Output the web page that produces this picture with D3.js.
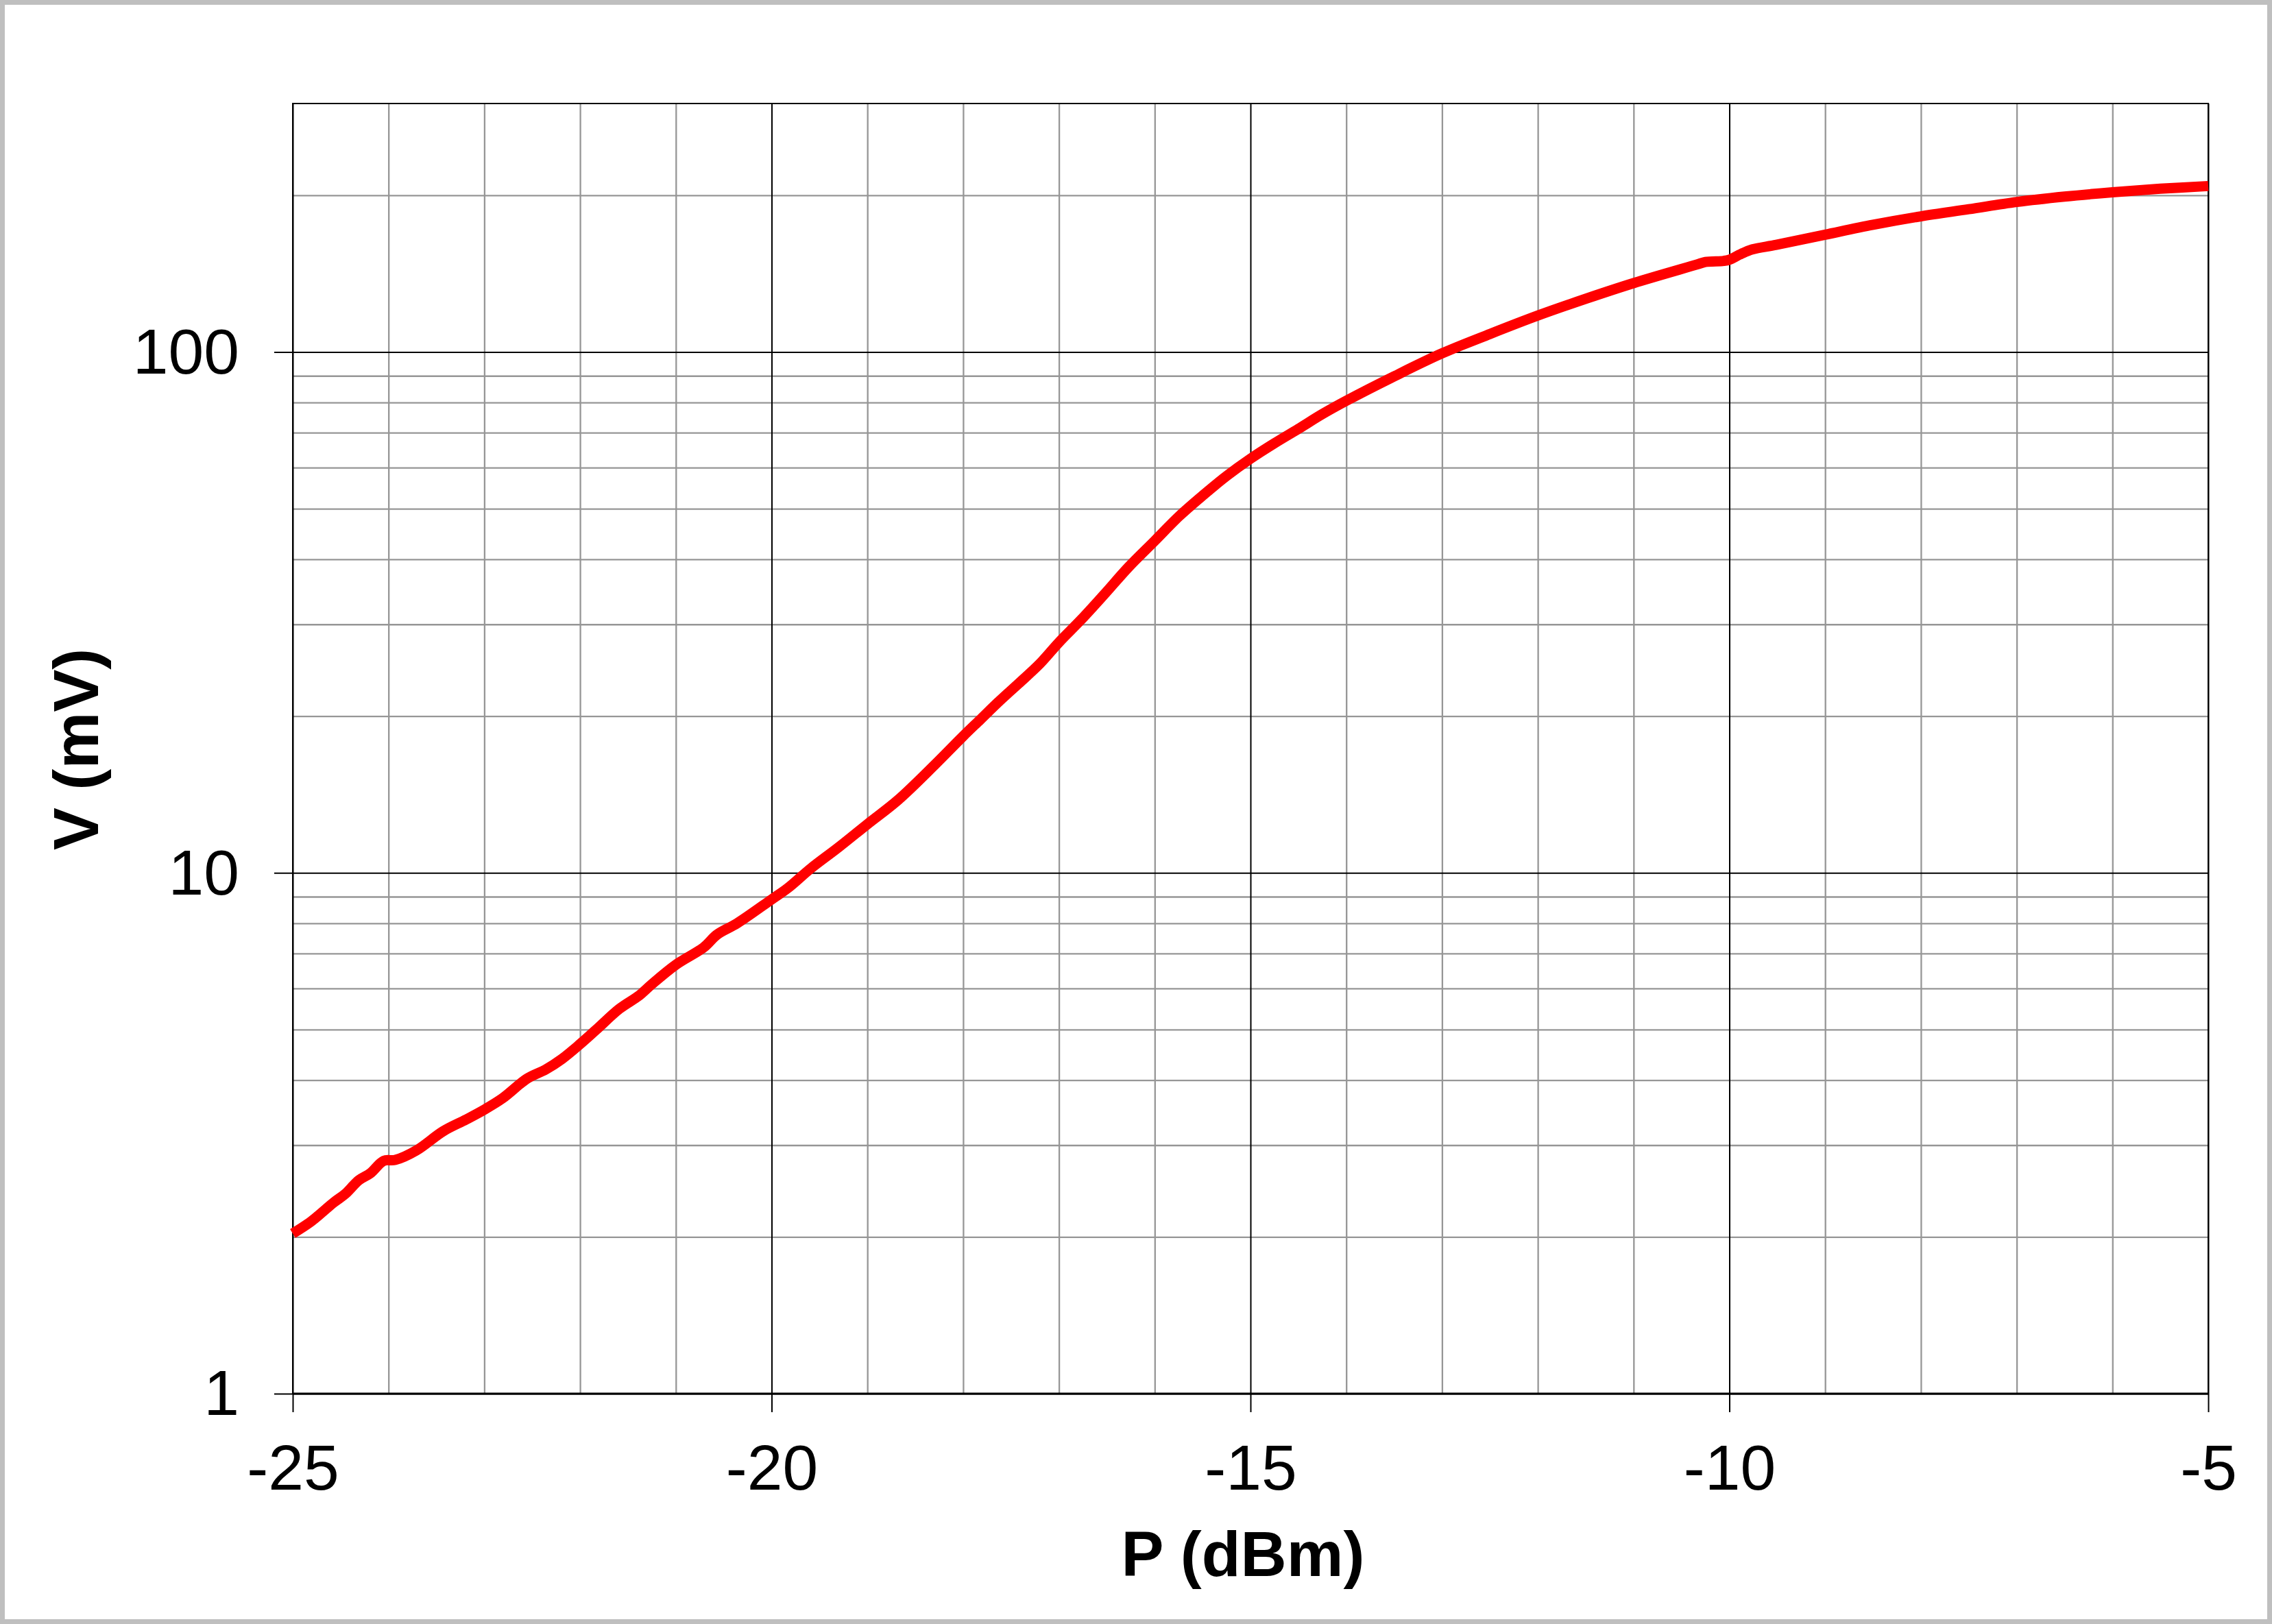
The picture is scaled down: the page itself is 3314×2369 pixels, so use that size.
<!DOCTYPE html>
<html>
<head>
<meta charset="utf-8">
<script src="https://cdn.jsdelivr.net/npm/d3@7"></script>
<style>
  html, body { margin: 0; padding: 0; background: #ffffff; }
  svg { display: block; }
  text { font-family: "Liberation Sans", Arial, sans-serif; fill: #000; }
</style>
</head>
<body>
<script>
// ---- data ----
const powerDbm = [-25, -24.81, -24.57, -24.45, -24.31, -24.19, -24.05, -23.93, -23.71, -23.43,
  -23.19, -23.0, -22.81, -22.55, -22.36, -22.19, -22.0, -21.83, -21.59, -21.38,
  -21.26, -21.0, -20.71, -20.57, -20.36, -20.0, -19.83, -19.59, -19.30, -19.0,
  -18.68, -18.30, -18.0, -17.82, -17.63, -17.42, -17.20, -17.0, -16.77,
  -16.53, -16.27, -16.0, -15.75, -15.5, -15.25, -15.0, -14.75, -14.5, -14.25,
  -14.0, -13.5, -13.0, -12.5, -12.0, -11.49, -11.0, -10.34, -10.25, -10.06,
  -10.0, -9.88, -9.76, -9.51, -9.0, -8.5, -8.0, -7.5, -7.0, -6.5,
  -6.0, -5.5, -5.0];
const voltageMv = [2.03, 2.14, 2.33, 2.42, 2.57, 2.65, 2.80, 2.81, 2.93, 3.19,
  3.36, 3.51, 3.69, 4.03, 4.19, 4.39, 4.69, 5.00, 5.48, 5.82,
  6.09, 6.66, 7.19, 7.61, 8.0, 8.89, 9.35, 10.2, 11.2, 12.4,
  13.8, 16.1, 18.3, 19.7, 21.3, 23.1, 25.2, 27.7, 30.6,
  34.2, 38.7, 43.4, 48.3, 53.0, 57.8, 62.4, 66.8, 71.2, 76.0,
  80.6, 89.8, 99.4, 108.3, 117.5, 126.7, 135.6, 147.2, 148.9, 149.6,
  150.4, 154.2, 157.4, 160.6, 168.0, 175.5, 182.2, 188.0, 194.1, 198.8,
  202.6, 205.8, 208.3];
const xDomain = [-25, -5];
const yDomain = [1, 300];
const xMajorTicks = [-25, -20, -15, -10, -5];
const xMinorTicks = [-24, -23, -22, -21, -19, -18, -17, -16, -14, -13, -12, -11, -9, -8, -7, -6];
const yMajorTicks = [1, 10, 100];
const yMinorTicks = [2, 3, 4, 5, 6, 7, 8, 9, 20, 30, 40, 50, 60, 70, 80, 90, 200];
const xTitle = "P (dBm)";
const yTitle = "V (mV)";

// ---- layout ----
const W = 3314, H = 2369;
const m = { left: 427, right: 3221, top: 151, bottom: 2033 };
const fontSize = 93;

const svg = d3.select("body").append("svg").attr("width", W).attr("height", H);

svg.append("rect").attr("x", 3.5).attr("y", 3.5).attr("width", W - 7).attr("height", H - 7)
  .attr("fill", "#ffffff").attr("stroke", "#bfbfbf").attr("stroke-width", 7);

const x = d3.scaleLinear().domain(xDomain).range([m.left, m.right]);
const y = d3.scaleLog().domain(yDomain).range([m.bottom, m.top]);
const ph = m.bottom - m.top, pw = m.right - m.left;

// minor grid
const gMinX = svg.append("g").attr("transform", `translate(0,${m.bottom})`)
  .call(d3.axisBottom(x).tickValues(xMinorTicks).tickSize(-ph).tickFormat(""));
const gMinY = svg.append("g").attr("transform", `translate(${m.left},0)`)
  .call(d3.axisLeft(y).tickValues(yMinorTicks).tickSize(-pw).tickFormat(""));
[gMinX, gMinY].forEach(g => {
  g.select(".domain").remove();
  g.selectAll(".tick line").attr("stroke", "#969696").attr("stroke-width", 2.3);
});

// major grid
const gMajX = svg.append("g").attr("transform", `translate(0,${m.bottom})`)
  .call(d3.axisBottom(x).tickValues(xMajorTicks).tickSize(-ph).tickFormat(""));
const gMajY = svg.append("g").attr("transform", `translate(${m.left},0)`)
  .call(d3.axisLeft(y).tickValues(yMajorTicks).tickSize(-pw).tickFormat(""));
[gMajX, gMajY].forEach(g => {
  g.select(".domain").remove();
  g.selectAll(".tick line").attr("stroke", "#000").attr("stroke-width", 2);
});

// plot frame
svg.append("rect").attr("x", m.left).attr("y", m.top).attr("width", pw).attr("height", ph)
  .attr("fill", "none").attr("stroke", "#000").attr("stroke-width", 2);
svg.append("line").attr("x1", m.left).attr("x2", m.right).attr("y1", m.bottom).attr("y2", m.bottom)
  .attr("stroke", "#000").attr("stroke-width", 3);

// curve
const data = powerDbm.map((p, i) => ({ p, v: voltageMv[i] }));
const line = d3.line().x(d => x(d.p)).y(d => y(d.v)).curve(d3.curveCatmullRom.alpha(0.5));
svg.append("path").datum(data).attr("d", line)
  .attr("fill", "none").attr("stroke", "#ff0000").attr("stroke-width", 15)
  .attr("stroke-linejoin", "round").attr("stroke-linecap", "butt");

// axes with labels
const ax = svg.append("g").attr("transform", `translate(0,${m.bottom})`)
  .call(d3.axisBottom(x).tickValues(xMajorTicks).tickSize(27).tickPadding(47).tickFormat(d3.format("d")));
const ay = svg.append("g").attr("transform", `translate(${m.left},0)`)
  .call(d3.axisLeft(y).tickValues(yMajorTicks).tickSize(27).tickPadding(51).tickFormat(d3.format("d")));
[ax, ay].forEach(g => {
  g.select(".domain").remove();
  g.selectAll(".tick line").attr("stroke", "#000").attr("stroke-width", 2);
  g.selectAll(".tick text").attr("font-size", fontSize)
    .attr("font-family", "'Liberation Sans', Arial, sans-serif").attr("fill", "#000");
});
ax.selectAll(".tick text").text(d => d < 0 ? "-" + Math.abs(d) : d);
ay.selectAll(".tick text").attr("dy", "0.333em");

// titles
svg.append("text").attr("x", 1813).attr("y", 2299).attr("text-anchor", "middle")
  .attr("font-size", fontSize).attr("font-weight", "bold").text(xTitle);
svg.append("text").attr("transform", "translate(143,1093) rotate(-90)").attr("text-anchor", "middle")
  .attr("font-size", fontSize).attr("font-weight", "bold").text(yTitle);
</script>
</body>
</html>
